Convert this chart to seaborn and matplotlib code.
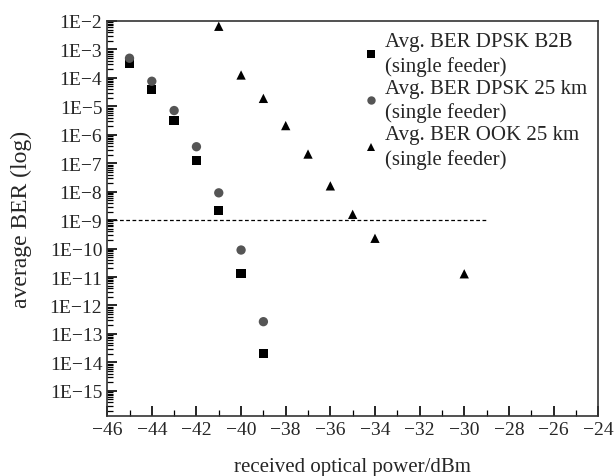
import numpy as np
import pandas as pd
import seaborn as sns
import matplotlib
matplotlib.use("Agg")
from matplotlib import pyplot as plt
from matplotlib.ticker import FixedLocator, MultipleLocator, FuncFormatter

sns.set_style("ticks")
plt.rcParams['font.family'] = ['Liberation Serif', 'DejaVu Serif']

power_b2b = [-45, -44, -43, -42, -41, -40, -39]
ber_b2b = [3.3e-4, 4.0e-5, 3.2e-6, 1.26e-7, 2.2e-9, 1.3e-11, 2.1e-14]

power_25 = [-45, -44, -43, -42, -41, -40, -39]
ber_25 = [4.9e-4, 7.6e-5, 7.1e-6, 3.8e-7, 9.1e-9, 8.9e-11, 2.7e-13]

power_ook = [-41, -40, -39, -38, -37, -36, -35, -34, -30]
ber_ook = [6.5e-3, 1.26e-4, 1.9e-5, 2.1e-6, 2.1e-7, 1.6e-8, 1.6e-9, 2.3e-10, 1.3e-11]

labels = ['Avg. BER DPSK B2B\n(single feeder)',
          'Avg. BER DPSK 25 km\n(single feeder)',
          'Avg. BER OOK 25 km\n(single feeder)']

df = pd.concat([
    pd.DataFrame({'power': power_b2b, 'ber': ber_b2b, 'series': labels[0]}),
    pd.DataFrame({'power': power_25, 'ber': ber_25, 'series': labels[1]}),
    pd.DataFrame({'power': power_ook, 'ber': ber_ook, 'series': labels[2]}),
])

fig, ax = plt.subplots(figsize=(6.16, 4.77), dpi=100)
fig.subplots_adjust(left=0.174, right=0.971, top=0.954, bottom=0.126)

ax.set_yscale('log')
sns.scatterplot(data=df, x='power', y='ber', hue='series', style='series',
                palette=['black', '#555555', 'black'],
                markers=['s', 'o', '^'], s=45, linewidth=0, ax=ax)

# 1E-9 threshold
ax.plot([-46, -29], [1e-9, 1e-9], color='black', linestyle=(0, (3, 2)), linewidth=0.9)

ax.set_xlim(-46, -24)
ax.set_ylim(10 ** -15.88, 1e-2)
ax.xaxis.set_major_locator(MultipleLocator(2))
ax.xaxis.set_minor_locator(MultipleLocator(1))
ax.yaxis.set_major_locator(FixedLocator([10.0 ** e for e in range(-15, -1)]))
minor_y = [m * 10.0 ** e for e in range(-16, -2) for m in range(2, 10)]
ax.yaxis.set_minor_locator(FixedLocator(minor_y))
ax.yaxis.set_minor_formatter(FuncFormatter(lambda v, p: ''))
ax.yaxis.set_major_formatter(FuncFormatter(lambda v, p: '1E\u2212%d' % round(-np.log10(v))))
ax.xaxis.set_major_formatter(FuncFormatter(lambda v, p: '\u2212%d' % round(-v) if v < 0 else '%d' % v))

ax.tick_params(axis='both', which='both', direction='in', labelsize=14, top=False, right=False,
               color='black')
ax.tick_params(axis='both', which='major', length=7, width=1.2)
ax.tick_params(axis='both', which='minor', length=4, width=0.9)
for sp in ax.spines.values():
    sp.set_linewidth(1.2)
    sp.set_color('#333333')

ax.set_xlabel('received optical power/dBm', fontsize=15, labelpad=14)
ax.set_ylabel('average BER (log)', fontsize=17, labelpad=13)

leg = ax.legend(loc='upper right', frameon=False, fontsize=15, handletextpad=0.05,
                markerscale=0.9, labelspacing=0.15, borderaxespad=0.15, handlelength=1.2)
for t in leg.get_texts():
    t.set_linespacing(1.3)

fig.savefig('out.png', dpi=100)
